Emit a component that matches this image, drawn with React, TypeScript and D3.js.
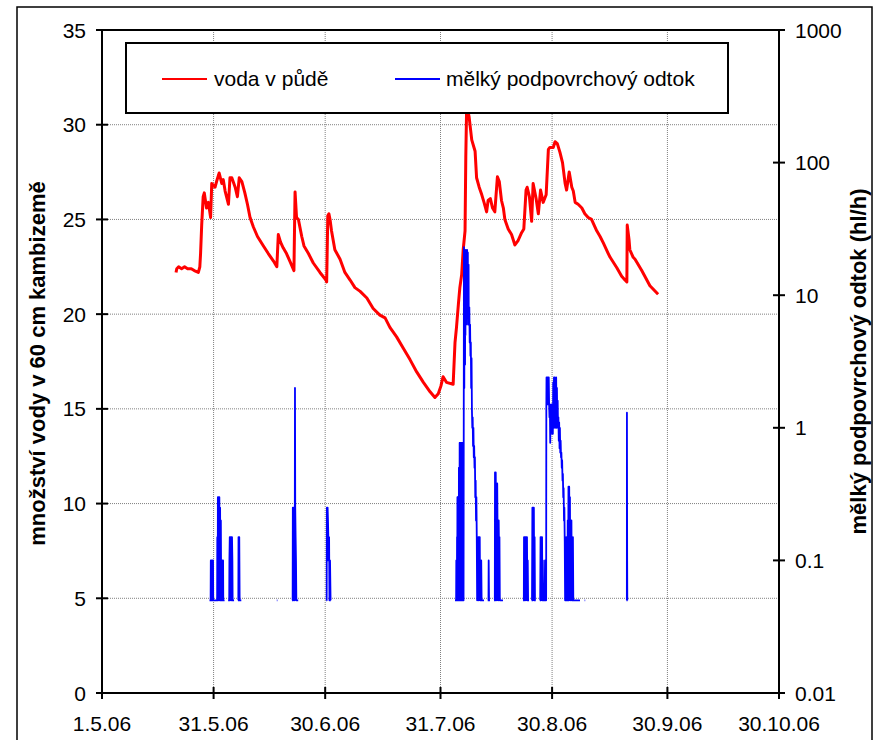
import React from "react";
import * as d3 from "d3";

// Day offsets are counted from 1 May 2006 (UTC).
const SEASON_START = Date.UTC(2006, 4, 1);
const SEASON_END = Date.UTC(2006, 9, 30);
const DAY_MS = 86400000;

const xTickDates = [
  Date.UTC(2006, 4, 1),
  Date.UTC(2006, 4, 31),
  Date.UTC(2006, 5, 30),
  Date.UTC(2006, 6, 31),
  Date.UTC(2006, 7, 30),
  Date.UTC(2006, 8, 30),
  Date.UTC(2006, 9, 30),
];
const xTickLabels = ["1.5.06", "31.5.06", "30.6.06", "31.7.06", "30.8.06", "30.9.06", "30.10.06"];

const leftTicks = [0, 5, 10, 15, 20, 25, 30, 35];
const rightTicks = [0.01, 0.1, 1, 10, 100, 1000];
const rightTickLabels = ["0.01", "0.1", "1", "10", "100", "1000"];

const soilSeriesName = "voda v půdě";
const runoffSeriesName = "mělký podpovrchový odtok";
const leftAxisTitle = "množství vody v 60 cm kambizemě";
const rightAxisTitle = "mělký podpovrchový odtok (hl/h)";

// Soil water in the upper 60 cm: [day offset, value]
const soilWater: [number, number][] = [
  [19.9, 22.2], [20.1, 22.4], [20.6, 22.5], [21.4, 22.4], [22.2, 22.5], [23.0, 22.4], [24.0, 22.4],
  [24.8, 22.3], [25.9, 22.2], [26.3, 22.5], [26.5, 23.2], [26.8, 24.7], [27.2, 26.2], [27.5, 26.4],
  [28.1, 25.6], [28.6, 25.9], [29.2, 25.1], [29.5, 26.9], [30.4, 26.7], [30.8, 27.0], [31.5, 27.45],
  [32.2, 26.9], [32.6, 27.1], [33.1, 26.5], [34.0, 25.8], [34.4, 27.2], [34.9, 27.2], [35.8, 26.7],
  [36.4, 26.2], [36.9, 27.2], [37.6, 27.0], [38.4, 26.4], [39.1, 25.8], [39.8, 25.1], [40.7, 24.6],
  [41.8, 24.1], [43.4, 23.6], [44.7, 23.2], [46.1, 22.8], [47.0, 22.5], [47.4, 24.2], [48.0, 23.8],
  [48.7, 23.5], [49.6, 23.2], [50.5, 22.8], [51.6, 22.3], [51.9, 26.45], [52.3, 25.1], [52.8, 25.0],
  [53.7, 24.1], [54.3, 23.6], [55.5, 23.2], [56.8, 22.7], [58.6, 22.2], [60.2, 21.8], [60.4, 21.7],
  [60.7, 25.2], [61.0, 25.3], [61.3, 25.0], [61.7, 24.4], [62.6, 23.4], [64.0, 22.9], [65.3, 22.2],
  [66.7, 21.8], [68.0, 21.4], [69.4, 21.2], [71.2, 20.85], [72.9, 20.3], [74.7, 19.95], [76.1, 19.8],
  [77.4, 19.3], [79.2, 18.8], [81.0, 18.2], [82.8, 17.6], [84.6, 16.95], [86.4, 16.4], [88.2, 15.9],
  [89.5, 15.6], [90.4, 15.8], [91.1, 16.2], [91.7, 16.7], [92.6, 16.4], [94.4, 16.3], [94.9, 18.5],
  [95.3, 19.3], [95.8, 20.5], [96.2, 21.4], [96.7, 22.1], [97.1, 23.4], [97.6, 24.4], [97.8, 28.3],
  [98.0, 30.6], [98.4, 30.7], [98.7, 30.4], [99.4, 29.2], [100.3, 28.6], [100.7, 27.2], [101.4, 26.7],
  [102.1, 26.3], [102.7, 25.9], [103.4, 25.4], [103.8, 26.0], [104.4, 26.1], [105.0, 25.6], [105.6, 25.4],
  [106.3, 27.25], [106.8, 27.0], [107.4, 26.0], [107.9, 25.6], [108.3, 25.0], [109.2, 24.5], [110.1, 24.2],
  [111.0, 23.65], [111.9, 23.9], [112.8, 24.3], [113.4, 24.5], [114.0, 26.55], [114.3, 26.7], [114.9, 26.2],
  [115.5, 24.9], [115.9, 26.9], [116.7, 26.1], [117.3, 25.3], [117.9, 26.55], [118.6, 25.9], [119.4, 26.3],
  [120.0, 28.7], [120.4, 28.8], [121.3, 28.8], [121.8, 29.1], [122.4, 29.0], [123.1, 28.55], [123.8, 28.0],
  [124.5, 26.9], [124.9, 26.55], [125.6, 27.5], [126.3, 26.7], [126.7, 26.5], [127.2, 25.9], [128.0, 25.8],
  [129.0, 25.6], [129.8, 25.3], [130.7, 25.1], [131.6, 25.0], [133.0, 24.4], [133.9, 24.1], [134.8, 23.75],
  [136.1, 23.2], [136.6, 23.0], [138.4, 22.45], [139.7, 22.0], [140.6, 21.8], [141.1, 21.7], [141.2, 24.7],
  [141.7, 23.9], [141.9, 23.4], [142.8, 23.0], [143.3, 22.9], [145.1, 22.3], [147.3, 21.5], [149.5, 21.05],
];

// Shallow subsurface runoff, one array per runoff event: [day offset, hl/h]
const runoffEvents: [number, number][][] = [
  [
    [28.9, 0.05], [29.2, 0.05], [29.25, 0.1], [29.35, 0.05], [29.45, 0.1], [29.55, 0.05], [29.65, 0.1],
    [29.75, 0.05], [29.85, 0.1], [29.9, 0.05], [30.95, 0.05], [31.0, 0.15], [31.1, 0.05], [31.15, 0.3],
    [31.25, 0.05], [31.35, 0.3], [31.45, 0.1], [31.55, 0.3], [31.65, 0.05], [31.75, 0.25], [31.85, 0.05],
    [31.95, 0.2], [32.05, 0.05], [32.15, 0.1], [32.25, 0.05], [32.35, 0.1], [32.45, 0.05], [32.55, 0.1],
    [32.6, 0.05], [32.95, 0.05],
  ],
  [
    [33.9, 0.05], [34.2, 0.05], [34.25, 0.1], [34.35, 0.15], [34.45, 0.05], [34.55, 0.15], [34.65, 0.1],
    [34.75, 0.15], [34.85, 0.05], [34.95, 0.15], [35.05, 0.1], [35.12, 0.05], [35.5, 0.05],
  ],
  [[36.55, 0.05], [36.65, 0.05], [36.7, 0.15], [36.8, 0.1], [36.9, 0.15], [37.0, 0.05], [37.45, 0.05]],
  [[47.0, 0.05], [47.15, 0.05]],
  [
    [51.1, 0.05], [51.25, 0.05], [51.3, 0.25], [51.4, 0.05], [51.5, 0.25], [51.6, 0.1], [51.7, 0.25],
    [51.8, 0.05], [51.88, 2.0], [51.95, 0.25], [52.05, 0.15], [52.15, 0.1], [52.25, 0.05], [52.75, 0.05],
  ],
  [
    [60.3, 0.05], [60.4, 0.05], [60.45, 0.25], [60.55, 0.1], [60.65, 0.25], [60.75, 0.2], [60.85, 0.15],
    [60.95, 0.1], [61.05, 0.15], [61.15, 0.05], [61.3, 0.1], [61.45, 0.05], [61.5, 0.05],
  ],
  [
    [94.9, 0.05], [95.2, 0.05], [95.25, 0.1], [95.3, 0.05], [95.35, 0.1], [95.4, 0.05], [95.45, 0.15],
    [95.5, 0.05], [95.55, 0.3], [95.6, 0.05], [95.65, 0.3], [95.7, 0.1], [95.75, 0.3], [95.8, 0.05],
    [95.85, 0.3], [95.9, 0.05], [95.95, 0.5], [96.0, 0.05], [96.05, 0.5], [96.1, 0.15], [96.15, 0.77],
    [96.2, 0.05], [96.25, 0.77], [96.3, 0.05], [96.35, 0.77], [96.4, 0.3], [96.45, 0.77], [96.5, 0.05],
    [96.55, 0.77], [96.6, 0.1], [96.65, 0.77], [96.7, 0.05], [96.75, 0.6], [96.8, 0.05], [96.85, 0.77],
    [96.9, 0.05], [96.95, 0.77], [97.0, 0.1], [97.05, 0.77], [97.1, 0.2], [97.2, 0.05], [97.3, 23],
    [97.4, 2], [97.45, 22], [97.5, 5], [97.55, 22], [97.6, 3], [97.65, 20], [97.7, 5], [97.75, 18],
    [97.8, 8], [97.85, 22], [97.9, 6], [97.95, 20], [98.0, 10], [98.05, 21], [98.1, 7], [98.15, 22],
    [98.2, 12], [98.25, 21], [98.3, 9], [98.35, 21], [98.4, 6], [98.45, 17], [98.5, 8], [98.55, 17],
    [98.6, 6], [98.65, 8.1], [98.75, 8.1], [98.85, 4.4], [98.95, 6], [99.05, 3.5], [99.15, 4.4],
    [99.25, 2], [99.35, 3.35], [99.45, 1.36], [99.55, 1.0], [99.65, 1.2], [99.75, 0.73], [99.85, 1.0],
    [99.95, 0.6], [100.05, 0.73], [100.15, 0.5], [100.25, 0.6], [100.35, 0.3], [100.45, 0.4], [100.55, 0.2],
    [100.65, 0.3], [100.75, 0.15], [100.85, 0.05], [100.95, 0.15], [101.05, 0.1], [101.15, 0.15],
    [101.25, 0.05], [101.35, 0.15], [101.45, 0.1], [101.55, 0.15], [101.65, 0.05], [101.75, 0.1],
    [101.85, 0.05], [101.95, 0.1], [102.05, 0.05], [102.7, 0.05],
  ],
  [[103.7, 0.05], [103.9, 0.05], [103.95, 0.1], [104.05, 0.05], [104.3, 0.05]],
  [
    [105.4, 0.05], [105.6, 0.05], [105.65, 0.46], [105.75, 0.05], [105.85, 0.46], [105.95, 0.2],
    [106.05, 0.38], [106.15, 0.05], [106.25, 0.38], [106.35, 0.15], [106.45, 0.2], [106.55, 0.05],
    [106.65, 0.2], [106.75, 0.1], [106.85, 0.15], [106.95, 0.05], [107.8, 0.05],
  ],
  [
    [113.2, 0.05], [113.4, 0.05], [113.45, 0.15], [113.55, 0.05], [113.65, 0.15], [113.75, 0.1],
    [113.85, 0.15], [113.95, 0.05], [114.05, 0.15], [114.15, 0.1], [114.25, 0.15], [114.35, 0.05],
    [114.45, 0.1], [114.55, 0.05], [114.8, 0.05],
  ],
  [
    [115.5, 0.05], [115.6, 0.05], [115.7, 0.25], [115.8, 0.05], [115.9, 0.25], [116.0, 0.1], [116.1, 0.25],
    [116.2, 0.05], [116.3, 0.15], [116.4, 0.05], [116.6, 0.05],
  ],
  [
    [117.7, 0.05], [117.8, 0.05], [117.9, 0.15], [118.0, 0.05], [118.1, 0.15], [118.2, 0.1], [118.3, 0.15],
    [118.4, 0.05], [118.5, 0.1], [118.6, 0.05], [119.0, 0.05], [119.1, 0.1], [119.2, 0.05], [119.4, 0.05],
    [119.45, 1.41], [119.5, 2.4], [119.6, 1.6], [119.7, 2.4], [119.8, 1.5], [119.9, 2.4], [120.0, 1.9],
    [120.1, 2.4], [120.2, 1.5], [120.3, 1.2], [120.4, 1.5], [120.5, 0.77], [120.6, 1.4], [120.7, 0.9],
    [120.8, 1.5], [120.9, 1.0], [121.0, 1.3], [121.1, 1.5], [121.2, 0.9], [121.3, 2.2], [121.4, 1.0],
    [121.5, 2.4], [121.6, 1.5], [121.7, 2.4], [121.8, 1.0], [121.9, 2.3], [122.0, 1.2], [122.1, 2.4],
    [122.2, 1.0], [122.3, 2.0], [122.4, 1.1], [122.5, 1.6], [122.6, 1.0], [122.7, 1.2], [122.8, 0.8],
    [122.9, 1.1], [123.0, 0.7], [123.1, 1.0], [123.2, 0.65], [123.3, 0.8], [123.4, 0.6], [123.5, 0.65],
    [123.6, 0.5], [123.7, 0.57], [123.8, 0.4], [123.9, 0.45], [124.0, 0.3], [124.1, 0.35], [124.2, 0.2],
    [124.3, 0.25], [124.4, 0.14], [124.5, 0.05], [124.6, 0.1], [124.7, 0.05], [124.8, 0.15], [124.9, 0.05],
    [125.0, 0.1], [125.1, 0.05], [125.2, 0.2], [125.3, 0.05], [125.4, 0.36], [125.5, 0.05], [125.6, 0.36],
    [125.7, 0.1], [125.8, 0.3], [125.9, 0.05], [126.0, 0.2], [126.1, 0.1], [126.2, 0.2], [126.3, 0.05],
    [126.4, 0.15], [126.5, 0.05], [126.6, 0.15], [126.7, 0.05], [128.5, 0.05],
  ],
  [[129.75, 0.05], [129.9, 0.05]],
  [[141.0, 0.05], [141.1, 0.05], [141.12, 1.3], [141.18, 0.1], [141.22, 0.05], [141.3, 0.05]],
];

const FONT = "'Liberation Sans', Arial, sans-serif";
const plot = { left: 102, right: 779, top: 30, bottom: 693 };

const toDate = (day: number) => new Date(SEASON_START + day * DAY_MS);

export default function App() {
  const x = d3.scaleUtc().domain([new Date(SEASON_START), new Date(SEASON_END)]).range([plot.left, plot.right]);
  const yLeft = d3.scaleLinear().domain([0, 35]).range([plot.bottom, plot.top]);
  const yRight = d3.scaleLog().domain([0.01, 1000]).range([plot.bottom, plot.top]);

  const soilLine = d3
    .line<[number, number]>()
    .x((d) => x(toDate(d[0])))
    .y((d) => yLeft(d[1]));
  const runoffLine = d3
    .line<[number, number]>()
    .x((d) => x(toDate(d[0])))
    .y((d) => yRight(d[1]));

  const plotMidY = (plot.top + plot.bottom) / 2;

  return (
    <svg
      width={875}
      height={740}
      style={{ position: "absolute", left: 0, top: 0, background: "#fff" }}
      fontFamily={FONT}
    >
      <rect x={0} y={0} width={875} height={740} fill="#fff" />
      <rect x={17} y={7} width={855} height={745} fill="none" stroke="#000" strokeWidth={1.5} />

      {/* grid */}
      <g stroke="#808080" strokeWidth={1} strokeDasharray="1 1">
        {leftTicks.slice(1, -1).map((v) => (
          <line key={"h" + v} x1={plot.left} x2={plot.right} y1={yLeft(v)} y2={yLeft(v)} />
        ))}
        {xTickDates.slice(1, -1).map((t) => (
          <line key={"v" + t} x1={x(new Date(t))} x2={x(new Date(t))} y1={plot.top} y2={plot.bottom} />
        ))}
      </g>

      {/* series */}
      <path d={soilLine(soilWater) ?? ""} fill="none" stroke="#ff0000" strokeWidth={3} strokeLinejoin="round" />
      {runoffEvents.map((ev, i) => (
        <path key={i} d={runoffLine(ev) ?? ""} fill="none" stroke="#0000ff" strokeWidth={1.8} strokeLinejoin="round" />
      ))}

      {/* frame and axes */}
      <g stroke="#000" strokeWidth={2}>
        <line x1={plot.left} x2={plot.right} y1={plot.top} y2={plot.top} />
        <line x1={plot.left} x2={plot.right} y1={plot.bottom} y2={plot.bottom} />
        <line x1={plot.left} x2={plot.left} y1={plot.top} y2={plot.bottom} />
        <line x1={plot.right} x2={plot.right} y1={plot.top} y2={plot.bottom} />
        {leftTicks.map((v) => (
          <line key={"lt" + v} x1={plot.left - 6} x2={plot.left + 6} y1={yLeft(v)} y2={yLeft(v)} />
        ))}
        {rightTicks.map((v) => (
          <line key={"rt" + v} x1={plot.right - 6} x2={plot.right + 6} y1={yRight(v)} y2={yRight(v)} />
        ))}
        {xTickDates.map((t) => (
          <line key={"xt" + t} x1={x(new Date(t))} x2={x(new Date(t))} y1={plot.bottom - 6} y2={plot.bottom + 6} />
        ))}
      </g>

      {/* tick labels */}
      <g fontSize={21} fill="#000">
        {leftTicks.map((v) => (
          <text key={"ll" + v} x={86} y={yLeft(v) + 7.5} textAnchor="end">
            {v}
          </text>
        ))}
        {rightTicks.map((v, i) => (
          <text key={"rl" + v} x={795} y={yRight(v) + 7.5} textAnchor="start">
            {rightTickLabels[i]}
          </text>
        ))}
        {xTickDates.map((t, i) => (
          <text key={"xl" + t} x={x(new Date(t))} y={731} textAnchor="middle">
            {xTickLabels[i]}
          </text>
        ))}
      </g>

      {/* axis titles */}
      <text
        transform={`translate(45, ${plotMidY + 2}) rotate(-90)`}
        textAnchor="middle"
        fontSize={22}
        fontWeight="bold"
      >
        {leftAxisTitle}
      </text>
      <text
        transform={`translate(866, ${plotMidY}) rotate(-90)`}
        textAnchor="middle"
        fontSize={22}
        fontWeight="bold"
      >
        {rightAxisTitle}
      </text>

      {/* legend */}
      <rect x={126} y={43} width={602} height={70} fill="#fff" stroke="#000" strokeWidth={2} />
      <line x1={162} x2={207} y1={79} y2={79} stroke="#ff0000" strokeWidth={2} />
      <text x={214} y={86} fontSize={21}>
        {soilSeriesName}
      </text>
      <line x1={395} x2={440} y1={79} y2={79} stroke="#0000ff" strokeWidth={2} />
      <text x={446} y={86} fontSize={21}>
        {runoffSeriesName}
      </text>
    </svg>
  );
}
